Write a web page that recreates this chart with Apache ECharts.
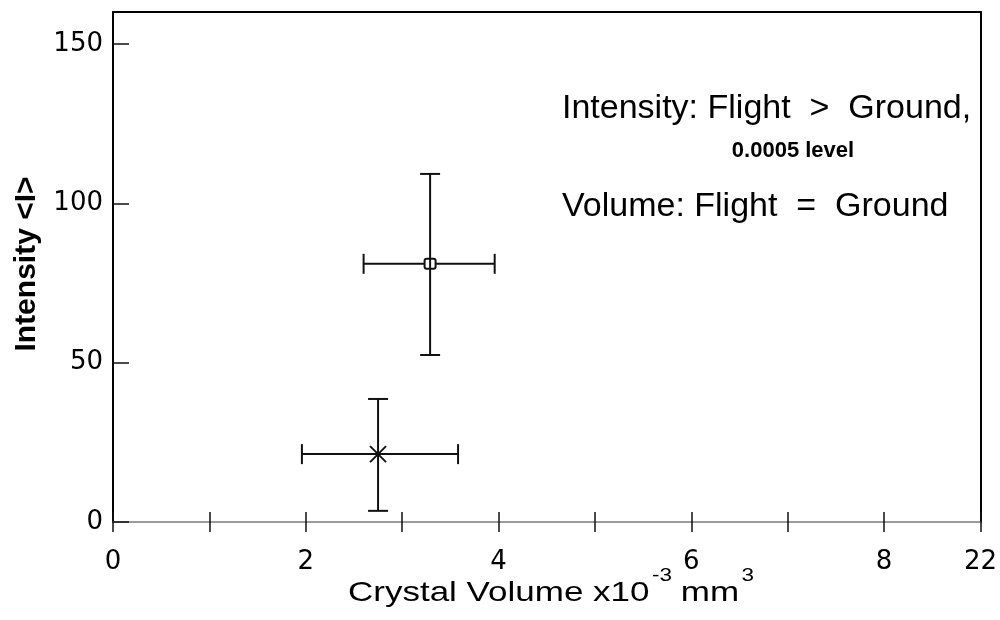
<!DOCTYPE html>
<html>
<head>
<meta charset="utf-8">
<script src="https://cdn.jsdelivr.net/npm/echarts@6/dist/echarts.min.js"></script>
<style>
  html, body { margin: 0; padding: 0; background: #fff; }
  #chart { width: 1000px; height: 620px; }
</style>
</head>
<body>
<div id="chart"></div>
<script>
// ---- data ----
const seriesNames = ['Flight', 'Ground'];
const seriesMarkers = ['square', 'cross'];
const volume = [3.29, 2.75];
const volumeLow = [2.60, 1.96];
const volumeHigh = [3.96, 3.58];
const intensity = [81.0, 21.3];
const intensityLow = [52.4, 3.5];
const intensityHigh = [109.2, 38.6];

const xTickPositions = [0, 1, 2, 3, 4, 5, 6, 7, 8, 9];
const xLabelValues = [0, 2, 4, 6, 8, 9];
const xLabelTexts = ['0', '2', '4', '6', '8', '22'];
const yTickValues = [0, 50, 100, 150];
const yLabelTexts = ['0', '50', '100', '150'];

const xTitle = 'Crystal Volume x10';
const xTitleExp1 = '-3';
const xTitleUnit = 'mm';
const xTitleExp2 = '3';
const yTitle = 'Intensity <I>';
const note1 = 'Intensity: Flight  >  Ground,';
const note2 = '0.0005 level';
const note3 = 'Volume: Flight  =  Ground';

// ---- chart ----
const SANS = '"Liberation Sans", Arial, Helvetica, sans-serif';
const WIDE = '"DejaVu Sans", sans-serif';

const ctx = document.createElement('canvas').getContext('2d');
function measure(text, size, weight) {
  ctx.font = (weight || 'normal') + ' ' + size + 'px ' + SANS;
  return ctx.measureText(text).width;
}

const chart = echarts.init(document.getElementById('chart'), null, { renderer: 'canvas' });

const data = volume.map((v, i) => [v, intensity[i], volumeLow[i], volumeHigh[i], intensityLow[i], intensityHigh[i], i]);

function renderItem(params, api) {
  const x = api.value(0), y = api.value(1);
  const c = api.coord([x, y]);
  const l = api.coord([api.value(2), y]);
  const r = api.coord([api.value(3), y]);
  const b = api.coord([x, api.value(4)]);
  const t = api.coord([x, api.value(5)]);
  const idx = api.value(6);
  const st = { stroke: '#111', lineWidth: 2, fill: null };
  const cap = 10;
  const children = [
    { type: 'line', shape: { x1: l[0], y1: c[1], x2: r[0], y2: c[1] }, style: st },
    { type: 'line', shape: { x1: c[0], y1: t[1], x2: c[0], y2: b[1] }, style: st },
    { type: 'line', shape: { x1: l[0], y1: c[1] - cap, x2: l[0], y2: c[1] + cap }, style: st },
    { type: 'line', shape: { x1: r[0], y1: c[1] - cap, x2: r[0], y2: c[1] + cap }, style: st },
    { type: 'line', shape: { x1: c[0] - cap, y1: t[1], x2: c[0] + cap, y2: t[1] }, style: st },
    { type: 'line', shape: { x1: c[0] - cap, y1: b[1], x2: c[0] + cap, y2: b[1] }, style: st }
  ];
  if (seriesMarkers[idx] === 'square') {
    children.push({ type: 'rect', shape: { x: c[0] - 5.5, y: c[1] - 5, width: 11, height: 10, r: 2 },
      style: { stroke: '#111', lineWidth: 2, fill: '#fff' } });
    children.push({ type: 'line', shape: { x1: c[0], y1: c[1] - 5, x2: c[0], y2: c[1] + 5 }, style: st });
  } else {
    const s = 8;
    children.push({ type: 'line', shape: { x1: c[0] - s, y1: c[1] - s, x2: c[0] + s, y2: c[1] + s }, style: st });
    children.push({ type: 'line', shape: { x1: c[0] - s, y1: c[1] + s, x2: c[0] + s, y2: c[1] - s }, style: st });
  }
  return { type: 'group', children: children };
}

// x title pieces layout (local coords, group is stretched horizontally)
const titleSize = 28, supSize = 18;
const w1 = measure(xTitle, titleSize);
const w2 = measure(xTitleExp1, supSize);
const w3 = measure(xTitleUnit, titleSize);
const titleY = 593;
const supY = 576;

const option = {
  animation: false,
  backgroundColor: '#fff',
  grid: { left: 113, right: 19, top: 12, bottom: 98, containLabel: false },
  xAxis: [
    {
      type: 'value', min: 0, max: 9, position: 'bottom',
      axisLine: { show: true, onZero: false, lineStyle: { color: '#9a9a9a', width: 2 } },
      axisTick: { show: true, inside: false, length: 10, customValues: xTickPositions, lineStyle: { color: '#111', width: 1.5 } },
      axisLabel: {
        customValues: xLabelValues, margin: 27, fontSize: 26, fontFamily: WIDE, color: '#000',
        formatter: v => { const k = xLabelValues.indexOf(v); return k >= 0 ? xLabelTexts[k] : ''; }
      },
      splitLine: { show: false }
    },
    {
      type: 'value', min: 0, max: 9, position: 'bottom',
      axisLine: { show: false, onZero: false },
      axisTick: { show: true, inside: true, length: 10, customValues: xTickPositions, lineStyle: { color: '#111', width: 1.5 } },
      axisLabel: { show: false },
      splitLine: { show: false }
    },
    {
      type: 'value', min: 0, max: 9, position: 'top',
      axisLine: { show: true, onZero: false, lineStyle: { color: '#000', width: 2 } },
      axisTick: { show: false }, axisLabel: { show: false }, splitLine: { show: false }
    }
  ],
  yAxis: [
    {
      type: 'value', min: 0, max: 160, position: 'left',
      axisLine: { show: true, onZero: false, lineStyle: { color: '#000', width: 2 } },
      axisTick: { show: true, inside: true, length: 16, customValues: yTickValues, lineStyle: { color: '#111', width: 1.5 } },
      axisLabel: {
        customValues: yTickValues, margin: 10, fontSize: 26, fontFamily: WIDE, color: '#000',
        formatter: v => { const k = yTickValues.indexOf(v); return k >= 0 ? yLabelTexts[k] : ''; }
      },
      splitLine: { show: false }
    },
    {
      type: 'value', min: 0, max: 160, position: 'right',
      axisLine: { show: true, onZero: false, lineStyle: { color: '#000', width: 2 } },
      axisTick: { show: false }, axisLabel: { show: false }, splitLine: { show: false }
    }
  ],
  series: [
    {
      type: 'custom', name: seriesNames.join(' / '), xAxisIndex: 0, yAxisIndex: 0,
      renderItem: renderItem, data: data, clip: false
    }
  ],
  graphic: [
    {
      type: 'group', x: 348, y: 0, scaleX: 1.25, children: [
        { type: 'text', x: 0, y: titleY, style: { text: xTitle, fontSize: titleSize, fontFamily: SANS, fill: '#000', align: 'left', verticalAlign: 'middle' } },
        { type: 'text', x: w1 + 2, y: supY, style: { text: xTitleExp1, fontSize: supSize, fontFamily: SANS, fill: '#000', align: 'left', verticalAlign: 'middle' } },
        { type: 'text', x: w1 + 2 + w2 + 7, y: titleY, style: { text: xTitleUnit, fontSize: titleSize, fontFamily: SANS, fill: '#000', align: 'left', verticalAlign: 'middle' } },
        { type: 'text', x: w1 + 2 + w2 + 7 + w3 + 2, y: supY, style: { text: xTitleExp2, fontSize: supSize, fontFamily: SANS, fill: '#000', align: 'left', verticalAlign: 'middle' } }
      ]
    },
    { type: 'text', x: 27, y: 264, rotation: Math.PI / 2, style: { text: yTitle, fontSize: 30, fontWeight: 'bold', fontFamily: SANS, fill: '#000', align: 'center', verticalAlign: 'middle' } },
    { type: 'text', x: 562, y: 109, style: { text: note1, fontSize: 34, fontFamily: SANS, fill: '#000', align: 'left', verticalAlign: 'middle' } },
    { type: 'text', x: 793, y: 151, style: { text: note2, fontSize: 22, fontWeight: 'bold', fontFamily: SANS, fill: '#000', align: 'center', verticalAlign: 'middle' } },
    { type: 'text', x: 562, y: 207, style: { text: note3, fontSize: 34, fontFamily: SANS, fill: '#000', align: 'left', verticalAlign: 'middle' } }
  ]
};

chart.setOption(option);
</script>
</body>
</html>
